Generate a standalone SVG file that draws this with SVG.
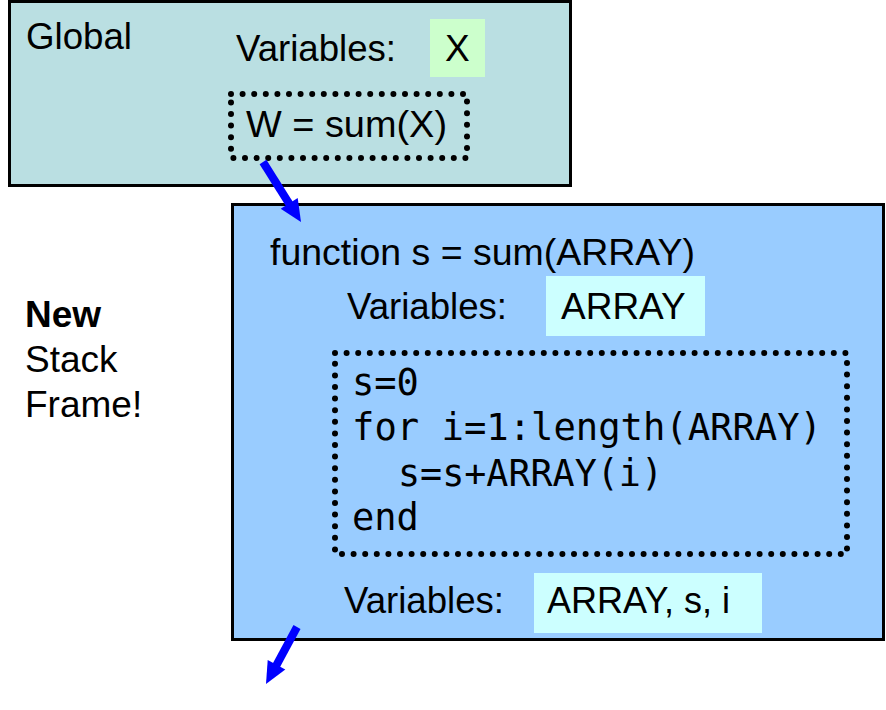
<svg xmlns="http://www.w3.org/2000/svg" width="886" height="710" viewBox="0 0 886 710">
<style>
.t{font-family:"Liberation Sans",Arial,sans-serif;font-size:37px;fill:#000}
.b{font-weight:bold}
.m{font-family:"DejaVu Sans Mono","Liberation Mono",monospace;font-size:37px;fill:#000}
.frame{stroke:#000;stroke-width:3}
.dot{fill:none;stroke:#000;stroke-width:6;stroke-linecap:round;stroke-dasharray:0 11.6}
.arrow{stroke:#0000FF;stroke-width:8;fill:none}
.head{fill:#0000FF}
</style>
<rect width="886" height="710" fill="#fff"/>
<g id="global">
<rect class="frame" x="9.5" y="1.5" width="561" height="184" fill="#BADFE2"/>
<text class="t" x="26" y="49" textLength="106" lengthAdjust="spacingAndGlyphs">Global</text>
<text class="t" x="236" y="61" textLength="160" lengthAdjust="spacingAndGlyphs">Variables:</text>
<rect x="430" y="19" width="55" height="58" fill="#CCFFCC"/>
<text class="t" x="445" y="61">X</text>
<rect class="dot" x="231" y="94" width="236" height="64"/>
<text class="t" x="246" y="137" textLength="201" lengthAdjust="spacingAndGlyphs">W = sum(X)</text>
</g>
<g id="stackframe">
<rect class="frame" x="232.5" y="204.5" width="651" height="435" fill="#99CCFF"/>
<text class="t" x="270" y="265" textLength="425" lengthAdjust="spacingAndGlyphs">function s = sum(ARRAY)</text>
<text class="t" x="347" y="319" textLength="160" lengthAdjust="spacingAndGlyphs">Variables:</text>
<rect x="546" y="276" width="159" height="60" fill="#CCFFFF"/>
<text class="t" x="561" y="319">ARRAY</text>
<rect class="dot" x="335" y="353" width="512" height="201"/>
<text class="m" x="352" y="395">s=0</text>
<text class="m" x="352" y="440" textLength="470" lengthAdjust="spacingAndGlyphs">for i=1:length(ARRAY)</text>
<text class="m" x="398" y="486" textLength="265" lengthAdjust="spacingAndGlyphs">s=s+ARRAY(i)</text>
<text class="m" x="352" y="530">end</text>
<text class="t" x="344" y="613" textLength="160" lengthAdjust="spacingAndGlyphs">Variables:</text>
<rect x="534" y="573" width="228" height="60" fill="#CCFFFF"/>
<text class="t" x="547" y="613" textLength="183" lengthAdjust="spacingAndGlyphs">ARRAY, s, i</text>
</g>
<g id="label">
<text class="t b" x="25" y="327">New</text>
<text class="t" x="25" y="372">Stack</text>
<text class="t" x="25" y="417">Frame!</text>
</g>
<g id="connectors">
<line class="arrow" x1="263" y1="162" x2="290" y2="205"/>
<polygon class="head" points="301,222 280.7,208.8 297.7,198.1"/>
<line class="arrow" x1="297" y1="627" x2="276" y2="666"/>
<polygon class="head" points="266,684 285.3,669.5 267.7,659.9"/>
</g>
</svg>
